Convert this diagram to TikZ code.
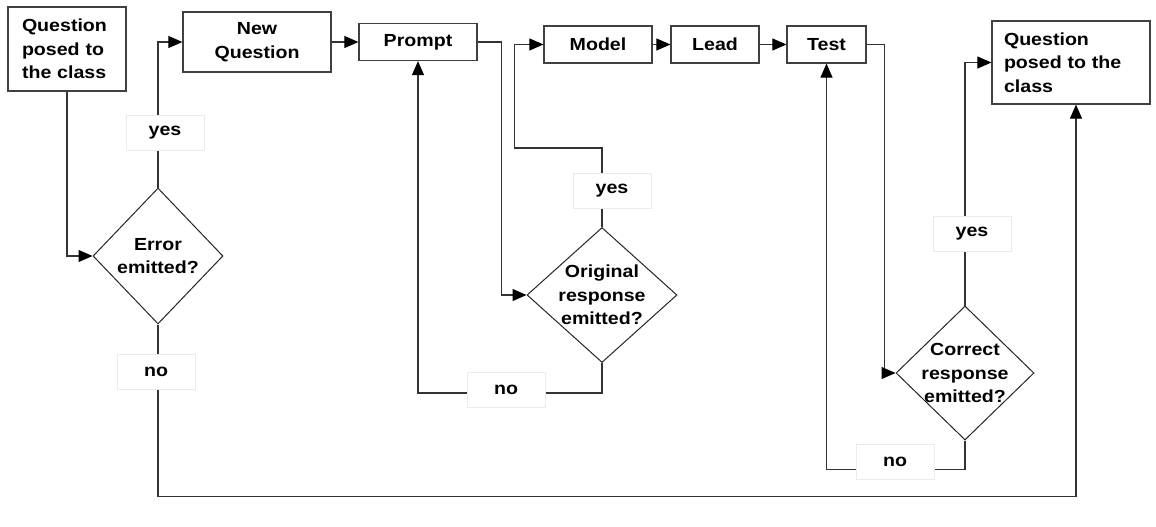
\documentclass[tikz,border=0pt]{standalone}
\usepackage{fontspec}
\setmainfont{Liberation Sans}[FakeStretch=1.12]
\usetikzlibrary{arrows.meta,shapes.geometric}

\tikzset{
    txt/.style={font=\bfseries\fontsize{17.5}{23.5}\selectfont},
    box/.style={txt, draw=black!75, line width=1.2pt, fill=white, inner sep=0pt, align=center},
    lbl/.style={txt, align=center, inner sep=0pt},
    decision/.style={diamond, draw=black!85, line width=1pt, fill=white, inner sep=0pt},
    answer/.style={txt, draw=black!8, fill=white, minimum width=78pt, minimum height=35pt, inner sep=0pt},
    conn/.style={draw=black!80, line width=1.1pt, -{Triangle[length=14pt,width=12pt,color=black]}},
}

\begin{document}
\begin{tikzpicture}[x=1pt, y=-1pt]
    \useasboundingbox (0,0) rectangle (1156,527);

    % riquadri in alto
    \node[box, align=left, text width=90pt, inner xsep=14pt, minimum height=84pt] (q1) at (67,49) {Question\\posed to\\the class};
    \node[box, minimum width=148pt, minimum height=60pt] (newq) at (257,42) {New\\Question};
    \node[box, minimum width=118pt, minimum height=37pt] (prompt) at (418,42) {Prompt};
    \node[box, minimum width=108pt, minimum height=37pt] (model) at (598,44.5) {Model};
    \node[box, minimum width=88pt, minimum height=37pt] (lead) at (715,44.5) {Lead};
    \node[box, minimum width=79pt, minimum height=37pt] (test) at (826.5,44.5) {Test};
    \node[box, align=left, text width=134pt, inner xsep=12pt, minimum height=83pt] (q2) at (1071,62.5) {Question\\posed to the\\class};

    % rombi di decisione
    \node[decision, minimum width=130pt, minimum height=136pt, label={[lbl]center:Error\\emitted?}] (d1) at (158,256) {};
    \node[decision, minimum width=150pt, minimum height=135pt, label={[lbl]center:Original\\response\\emitted?}] (d2) at (602,295) {};
    \node[decision, minimum width=138pt, minimum height=134pt, label={[lbl]center:Correct\\response\\emitted?}] (d3) at (965,373) {};

    \draw[conn] (q1.south) |- (d1.west);
    \draw[conn] (d1.north) |- (newq.west);
    \draw[conn] (newq.east) -- (prompt.west);
    \draw[conn] (prompt.east) -- ++(24,0) |- (d2.west);
    \draw[conn] (d2.north) -- ++(0,-79) -| ([xshift=-29pt]model.west) -- (model.west);
    \draw[conn] (d2.south) -- ++(0,30) -| (prompt.south);
    \draw[conn] (model.east) -- (lead.west);
    \draw[conn] (lead.east) -- (test.west);
    \draw[conn] (test.east) -- ++(18,0) |- (d3.west);
    \draw[conn] (d3.north) |- (q2.west);
    \draw[conn] (d3.south) -- ++(0,29) -| (test.south);
    \draw[conn] (d1.south) -- ++(0,172) -| ([xshift=5pt]q2.south);

    % etichette sopra le linee
    \node[answer] (yes1) at (165,132.5) {yes};
    \node[answer] (no1) at (156,372) {no};
    \node[answer] (yes2) at (612,191) {yes};
    \node[answer] (no2) at (506,390) {no};
    \node[answer] (yes3) at (972,234) {yes};
    \node[answer] (no3) at (895,462) {no};
\end{tikzpicture}
\end{document}
